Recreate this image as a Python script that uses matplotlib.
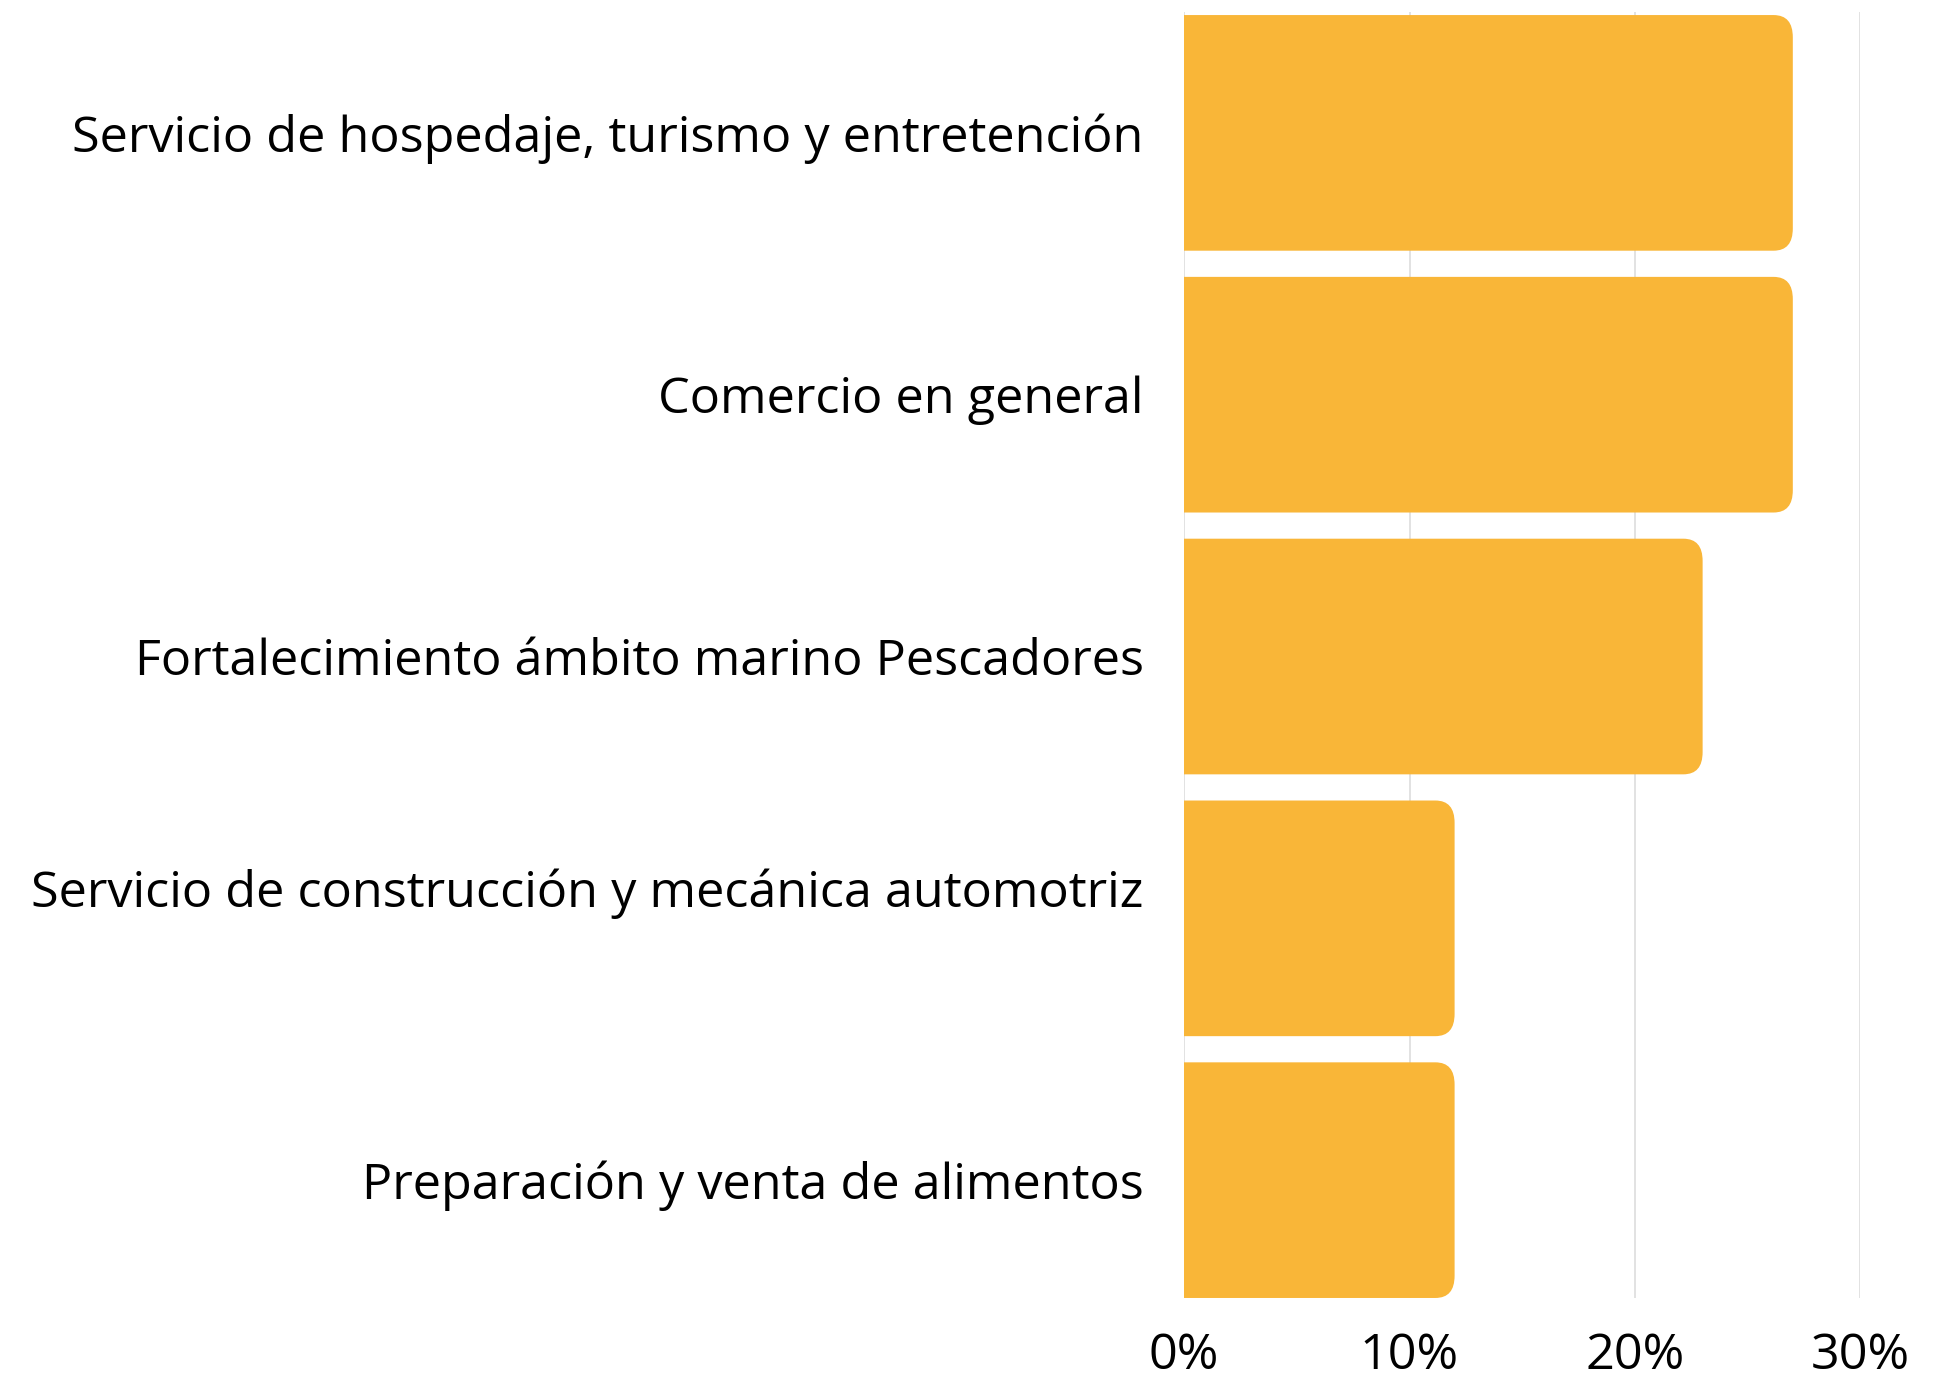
import numpy as np
import matplotlib
matplotlib.use('Agg')
import matplotlib.pyplot as plt
from matplotlib.patches import FancyBboxPatch
from matplotlib.transforms import ScaledTranslation

plt.rcParams['font.family'] = ['Open Sans', 'DejaVu Sans']

categorias = ['Servicio de hospedaje, turismo y entretención',
              'Comercio en general',
              'Fortalecimiento ámbito marino Pescadores',
              'Servicio de construcción y mecánica automotriz',
              'Preparación y venta de alimentos']
valores = [27, 27, 23, 12, 12]
ticks = [0, 10, 20, 30]
tick_labels = ['0%', '10%', '20%', '30%']

color_barra = '#F9B638'

fig = plt.figure(figsize=(19.59, 13.82), dpi=100)
ax = fig.add_axes([0.6044, 0.0608, 0.3453, 0.9302])

y = np.arange(len(categorias))
bars = ax.barh(y, valores, height=0.9, color=color_barra, zorder=2)

# esquinas redondeadas a la derecha
for b in bars:
    x0, y0 = b.get_x(), b.get_y()
    w, h = b.get_width(), b.get_height()
    b.set_visible(False)
    p = FancyBboxPatch((x0 - 1, y0), w + 1, h,
                       boxstyle='round,pad=0,rounding_size=0.85',
                       mutation_aspect=0.1,
                       facecolor=color_barra, edgecolor='none', zorder=2,
                       clip_on=True)
    ax.add_patch(p)

ax.set_xlim(0, 30)
ax.set_ylim(len(categorias) - 0.55, -0.46)
ax.set_xticks(ticks)
ax.set_xticklabels(tick_labels)
ax.set_yticks(y)
ax.set_yticklabels(categorias)

ax.grid(axis='x', color='#dddddd', linewidth=1.2, zorder=0)
ax.set_axisbelow(True)
for s in ax.spines.values():
    s.set_visible(False)
ax.tick_params(axis='both', length=0, labelsize=36.3, colors='#000000')
ax.tick_params(axis='y', pad=29)
ax.tick_params(axis='x', pad=24)

# la etiqueta de la cuarta barra esta mas arriba en el original
lbl = ax.get_yticklabels()[3]
lbl.set_transform(lbl.get_transform() + ScaledTranslation(0, 0.31, fig.dpi_scale_trans))

fig.savefig('out.png', dpi=100)
